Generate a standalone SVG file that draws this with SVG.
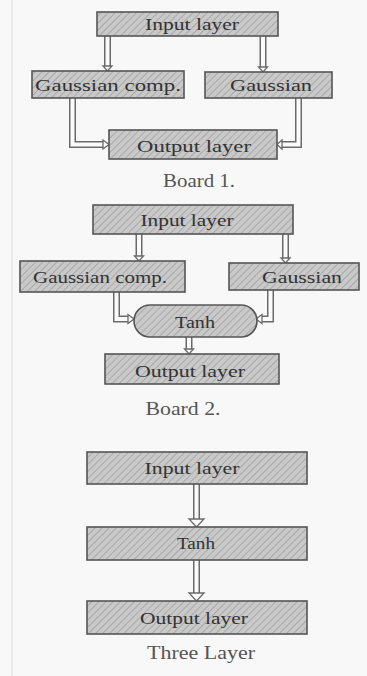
<svg xmlns="http://www.w3.org/2000/svg" width="367" height="676" viewBox="0 0 367 676">
  <defs>
    <pattern id="hatch" patternUnits="userSpaceOnUse" width="5" height="5" patternTransform="rotate(45)">
      <rect width="5" height="5" fill="#c9c9c9"/>
      <line x1="0" y1="0" x2="0" y2="5" stroke="#a9a9a9" stroke-width="2"/>
    </pattern>
  </defs>
  <style>
    .box { fill: url(#hatch); stroke: #555; stroke-width: 1.6; }
    .lbl { font-family: "Liberation Serif", "Times New Roman", serif; font-size: 17.5px; fill: #333; text-anchor: middle; }
    .cap { font-family: "Liberation Serif", "Times New Roman", serif; font-size: 18px; fill: #555; text-anchor: middle; }
    .shaftO { fill: none; stroke: #6a6a6a; stroke-width: 7; stroke-linejoin: miter; }
    .shaftI { fill: none; stroke: #fbfbfb; stroke-width: 4; stroke-linejoin: miter; }
    .head { fill: #fbfbfb; stroke: #6a6a6a; stroke-width: 1.3; stroke-linejoin: miter; }
  </style>
  <rect width="367" height="676" fill="#f8f8f8"/>
  <line x1="12" y1="0" x2="12" y2="676" stroke="#e6e6e6" stroke-width="1.5"/>

  <!-- Connectors -->
  <g id="connectors">
    <!-- Board 1 -->
    <path class="shaftO" d="M107.5 36 V66"/><path class="shaftI" d="M107.5 36 V67"/>
    <polygon class="head" points="103,66 112,66 107.5,71"/>
    <path class="shaftO" d="M263 36 V67"/><path class="shaftI" d="M263 36 V68"/>
    <polygon class="head" points="258.5,67 267.5,67 263,72"/>
    <path class="shaftO" d="M72.5 98 V144.5 H103"/><path class="shaftI" d="M72.5 98 V144.5 H104"/>
    <polygon class="head" points="103,140 103,149 109,144.5"/>
    <path class="shaftO" d="M298.5 98 V144.5 H282"/><path class="shaftI" d="M298.5 98 V144.5 H281"/>
    <polygon class="head" points="282,140 282,149 277,144.5"/>
    <!-- Board 2 -->
    <path class="shaftO" d="M139 234 V256"/><path class="shaftI" d="M139 234 V257"/>
    <polygon class="head" points="134.5,256 143.5,256 139,261"/>
    <path class="shaftO" d="M285.5 234 V258"/><path class="shaftI" d="M285.5 234 V259"/>
    <polygon class="head" points="281,258 290,258 285.5,263"/>
    <path class="shaftO" d="M116.5 292 V319 H128"/><path class="shaftI" d="M116.5 292 V319 H129"/>
    <polygon class="head" points="128,314.5 128,323.5 134,319"/>
    <path class="shaftO" d="M270.5 290 V319 H262"/><path class="shaftI" d="M270.5 290 V319 H261"/>
    <polygon class="head" points="262,314.5 262,323.5 256,319"/>
    <path class="shaftO" d="M189 337 V349"/><path class="shaftI" d="M189 337 V350"/>
    <polygon class="head" points="184.5,349 193.5,349 189,354"/>
    <!-- Three Layer -->
    <path class="shaftO" d="M196.5 484 V519"/><path class="shaftI" d="M196.5 484 V520"/>
    <polygon class="head" points="189,519 204,519 196.5,527"/>
    <path class="shaftO" d="M196.5 560 V593"/><path class="shaftI" d="M196.5 560 V594"/>
    <polygon class="head" points="189,593 204,593 196.5,601"/>
  </g>

  <!-- Board 1 -->
  <g id="b1-input"><rect class="box" x="97" y="12" width="181" height="24"/><text class="lbl" x="192" y="29.5" textLength="94" lengthAdjust="spacingAndGlyphs">Input layer</text></g>
  <g id="b1-gcomp"><rect class="box" x="32" y="71" width="152" height="27"/><text class="lbl" x="108" y="90.5" textLength="146" lengthAdjust="spacingAndGlyphs">Gaussian  comp.</text></g>
  <g id="b1-gauss"><rect class="box" x="205" y="72" width="127" height="26"/><text class="lbl" x="271" y="90.5" textLength="82" lengthAdjust="spacingAndGlyphs">Gaussian</text></g>
  <g id="b1-output"><rect class="box" x="109" y="130" width="168" height="29"/><text class="lbl" x="194" y="151.5" textLength="114" lengthAdjust="spacingAndGlyphs">Output layer</text></g>
  <text class="cap" x="199" y="187" textLength="72" lengthAdjust="spacingAndGlyphs">Board  1.</text>

  <!-- Board 2 -->
  <g id="b2-input"><rect class="box" x="93" y="205" width="200" height="29"/><text class="lbl" x="187" y="225.5" textLength="93" lengthAdjust="spacingAndGlyphs">Input layer</text></g>
  <g id="b2-gcomp"><rect class="box" x="20" y="261" width="165" height="31"/><text class="lbl" x="100" y="282.5" textLength="134" lengthAdjust="spacingAndGlyphs">Gaussian comp.</text></g>
  <g id="b2-gauss"><rect class="box" x="229" y="263" width="130" height="27"/><text class="lbl" x="302" y="282.5" textLength="80" lengthAdjust="spacingAndGlyphs">Gaussian</text></g>
  <g id="b2-tanh"><rect class="box" x="134" y="305" width="123" height="32" rx="16" ry="16"/><text class="lbl" x="195" y="327.5" textLength="40" lengthAdjust="spacingAndGlyphs">Tanh</text></g>
  <g id="b2-output"><rect class="box" x="105" y="354" width="174" height="30"/><text class="lbl" x="190" y="376.5" textLength="110" lengthAdjust="spacingAndGlyphs">Output layer</text></g>
  <text class="cap" x="183" y="415" textLength="75" lengthAdjust="spacingAndGlyphs">Board  2.</text>

  <!-- Three Layer -->
  <g id="t-input"><rect class="box" x="87" y="452" width="220" height="32"/><text class="lbl" x="192" y="473.5" textLength="95" lengthAdjust="spacingAndGlyphs">Input layer</text></g>
  <g id="t-tanh"><rect class="box" x="87" y="527" width="220" height="33"/><text class="lbl" x="196" y="548.5" textLength="38" lengthAdjust="spacingAndGlyphs">Tanh</text></g>
  <g id="t-output"><rect class="box" x="87" y="601" width="220" height="33"/><text class="lbl" x="194" y="623.5" textLength="108" lengthAdjust="spacingAndGlyphs">Output layer</text></g>
  <text class="cap" x="201" y="659" textLength="108" lengthAdjust="spacingAndGlyphs">Three Layer</text>
</svg>
